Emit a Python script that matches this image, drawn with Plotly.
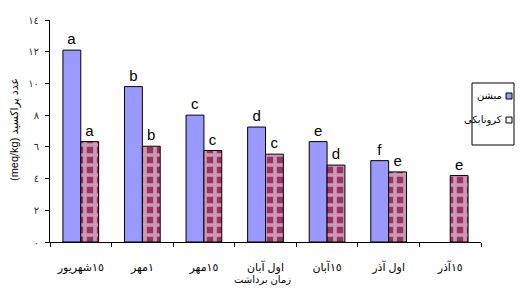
import plotly.graph_objects as go

categories = ["١٥شهریور", "١مهر", "١٥مهر", "اول آبان", "١٥آبان", "اول آذر", "١٥آذر"]
mission = [12.1, 9.8, 8.0, 7.25, 6.33, 5.13, None]
koroneiki = [6.33, 6.04, 5.77, 5.54, 4.85, 4.42, 4.19]
mission_letters = ["a", "b", "c", "d", "e", "f", ""]
koroneiki_letters = ["a", "b", "c", "c", "d", "e", "e"]
series_names = ["میشن", "کرونایکی"]
y_tickvals = [0, 2, 4, 6, 8, 10, 12, 14]
y_ticktext = ["٠", "٢", "٤", "٦", "٨", "١٠", "١٢", "١٤"]

FONT = "Liberation Sans, DejaVu Sans, Arial, sans-serif"
BLUE = "#9999FF"
MAROON = "#993366"

fig = go.Figure()
fig.add_trace(go.Bar(
    x=categories, y=mission, name=series_names[0],
    marker=dict(color=BLUE, line=dict(color="black", width=1)),
    text=mission_letters, textposition="outside", cliponaxis=False,
    textfont=dict(size=15, color="black", family=FONT),
))
fig.add_trace(go.Bar(
    x=categories, y=koroneiki, name=series_names[1],
    marker=dict(color="white", line=dict(color="black", width=1),
                pattern=dict(shape="+", bgcolor=MAROON, fgcolor="white",
                             size=10, solidity=0.6)),
    text=koroneiki_letters, textposition="outside", cliponaxis=False,
    textfont=dict(size=15, color="black", family=FONT),
))

# page has an 8px body margin; keep the figure inside the window (no scrollbars)
OFF = 8
L, T = 50 - OFF, 20 - OFF
W, H = 523 - 2 * OFF, 293 - 2 * OFF
pw, ph = 431, 222
R = W - L - pw
B = H - T - ph


def px(x):
    return (x - 50) / pw


def py(y):
    return (242 - y) / ph


shapes = [
    dict(type="rect", xref="paper", yref="paper", x0=px(472), x1=px(514),
         y0=py(145), y1=py(83), line=dict(color="black", width=1), fillcolor="white"),
    dict(type="rect", xref="paper", yref="paper", x0=px(506), x1=px(512),
         y0=py(99), y1=py(93), line=dict(color="black", width=1), fillcolor=BLUE),
    dict(type="rect", xref="paper", yref="paper", x0=px(506), x1=px(512),
         y0=py(123), y1=py(117), line=dict(color="black", width=1), fillcolor="white"),
]
annotations = [
    dict(text=series_names[0], xref="paper", yref="paper", x=px(504), y=py(96),
         xanchor="right", yanchor="middle", showarrow=False,
         font=dict(size=10, color="black", family=FONT)),
    dict(text=series_names[1], xref="paper", yref="paper", x=px(504), y=py(120),
         xanchor="right", yanchor="middle", showarrow=False,
         font=dict(size=10, color="black", family=FONT)),
    dict(text="(meq/kg) عدد پراکسید", xref="paper", yref="paper", x=px(14), y=py(130),
         xanchor="center", yanchor="middle", textangle=-90, showarrow=False,
         font=dict(size=11, color="black", family=FONT)),
    dict(text="زمان برداشت", xref="paper", yref="paper", x=px(262), y=py(279),
         xanchor="center", yanchor="middle", showarrow=False,
         font=dict(size=10, color="black", family=FONT)),
]

fig.update_layout(
    width=W, height=H,
    margin=dict(l=L, r=R, t=T, b=B, pad=0, autoexpand=False),
    paper_bgcolor="white", plot_bgcolor="white",
    barmode="group", bargap=0.42, bargroupgap=0,
    showlegend=False,
    font=dict(family=FONT, size=10, color="black"),
    shapes=shapes, annotations=annotations,
)
fig.update_xaxes(
    showline=True, linecolor="black", linewidth=1, automargin=False,
    ticks="outside", ticklen=4, tickcolor="black", tickson="boundaries",
    showgrid=False, ticklabelstandoff=15,
    tickfont=dict(size=11, color="black", family=FONT),
)
fig.update_yaxes(
    range=[0, 14], tickvals=y_tickvals, ticktext=y_ticktext, automargin=False,
    showline=True, linecolor="black", linewidth=1,
    ticks="outside", ticklen=4, tickcolor="black",
    showgrid=False, zeroline=False, ticklabelstandoff=4,
    tickfont=dict(size=10, color="#333333", family=FONT),
)

fig.write_html("out.html")
